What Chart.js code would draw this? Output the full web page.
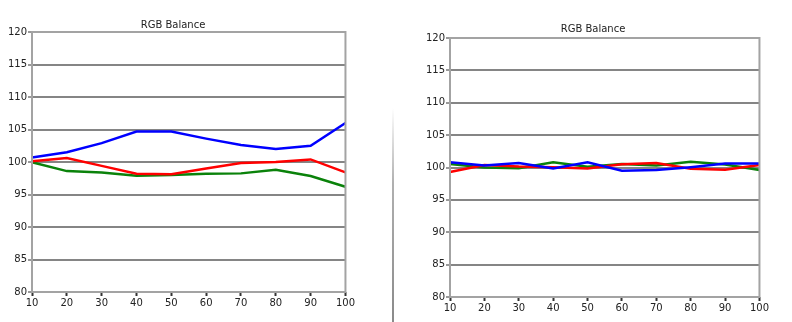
<!DOCTYPE html>
<html>
<head>
<meta charset="utf-8">
<title>RGB Balance</title>
<script src="https://cdn.jsdelivr.net/npm/chart.js@4/dist/chart.umd.min.js"></script>
<style>
  html, body { margin: 0; padding: 0; background: #fff; }
  body { width: 792px; height: 322px; position: relative; overflow: hidden; }
  .panel { position: absolute; top: 0; height: 322px; }
  #leftPanel { left: 0; width: 356px; }
  #rightPanel { left: 422px; width: 348px; }
  .divider {
    position: absolute; left: 392px; top: 108px; width: 2px; height: 214px;
    background: linear-gradient(to bottom, rgba(180,180,180,0), #b0b0b0 35%, #8a8a8a 100%);
  }
</style>
</head>
<body>
<div class="panel" id="leftPanel"><canvas id="leftChart"></canvas></div>
<div class="divider"></div>
<div class="panel" id="rightPanel"><canvas id="rightChart"></canvas></div>
<script>
const levelLabels = ["10", "20", "30", "40", "50", "60", "70", "80", "90", "100"];

// before calibration
const leftRed = [100.1, 100.6, 99.4, 98.2, 98.1, 99.0, 99.85, 100.0, 100.4, 98.4];
const leftGreen = [99.95, 98.6, 98.4, 97.9, 98.0, 98.2, 98.25, 98.8, 97.85, 96.2];
const leftBlue = [100.7, 101.5, 102.9, 104.7, 104.7, 103.6, 102.6, 102.0, 102.5, 106.0];

// after calibration
const rightRed = [99.3, 100.4, 100.15, 100.05, 99.85, 100.5, 100.7, 99.8, 99.65, 100.4];
const rightGreen = [100.55, 100.0, 99.9, 100.8, 100.1, 100.55, 100.3, 100.9, 100.45, 99.6];
const rightBlue = [100.8, 100.3, 100.7, 99.85, 100.8, 99.5, 99.6, 100.05, 100.6, 100.6];

const FONT = { family: "'DejaVu Sans', Verdana, sans-serif", size: 10, weight: "normal" };

// grey box around the plot area
const framePlugin = {
  id: "plotFrame",
  afterDatasetsDraw(chart) {
    const { ctx, chartArea: a } = chart;
    ctx.save();
    ctx.strokeStyle = "#a3a3a3";
    ctx.lineWidth = 2;
    ctx.strokeRect(a.left, a.top, a.right - a.left, a.bottom - a.top);
    ctx.restore();
  }
};

function series(data, color) {
  return {
    data,
    borderColor: color,
    backgroundColor: color,
    borderWidth: 2.5,
    pointRadius: 0,
    tension: 0,
    fill: false
  };
}

function buildChart(canvasId, red, green, blue, box) {
  return new Chart(document.getElementById(canvasId), {
    type: "line",
    data: {
      labels: levelLabels,
      // first dataset ends up drawn on top
      datasets: [series(blue, "#0000ff"), series(red, "#ff0000"), series(green, "#0a820a")]
    },
    options: {
      responsive: true,
      maintainAspectRatio: false,
      animation: false,
      layout: { padding: { top: 0, left: 0, right: box.padRight, bottom: box.padBottom } },
      plugins: {
        legend: { display: false },
        tooltip: { enabled: false },
        title: {
          display: true,
          text: "RGB Balance",
          color: "#222",
          font: FONT,
          padding: { top: box.titleTop, bottom: box.titleBottom }
        }
      },
      scales: {
        x: {
          type: "category",
          offset: false,
          grid: { drawOnChartArea: false, drawTicks: true, tickLength: 4, tickColor: "#333", tickWidth: 2 },
          border: { display: false },
          ticks: { color: "#222", font: FONT, padding: 1, maxRotation: 0, autoSkip: false },
          afterFit(scale) { scale.height = 20; }
        },
        y: {
          min: 80,
          max: 120,
          grid: { color: "#858585", lineWidth: 2, tickLength: 4, tickColor: "#333", tickWidth: 1 },
          border: { display: false },
          ticks: { stepSize: 5, color: "#222", font: FONT, padding: 1 },
          afterFit(scale) { scale.width = box.axisWidth; }
        }
      }
    },
    plugins: [framePlugin]
  });
}

buildChart("leftChart", leftRed, leftGreen, leftBlue,
  { axisWidth: 32, padRight: 10, padBottom: 10, titleTop: 19, titleBottom: 1 });
buildChart("rightChart", rightRed, rightGreen, rightBlue,
  { axisWidth: 28, padRight: 6, padBottom: 5, titleTop: 23, titleBottom: 3 });
</script>
</body>
</html>
